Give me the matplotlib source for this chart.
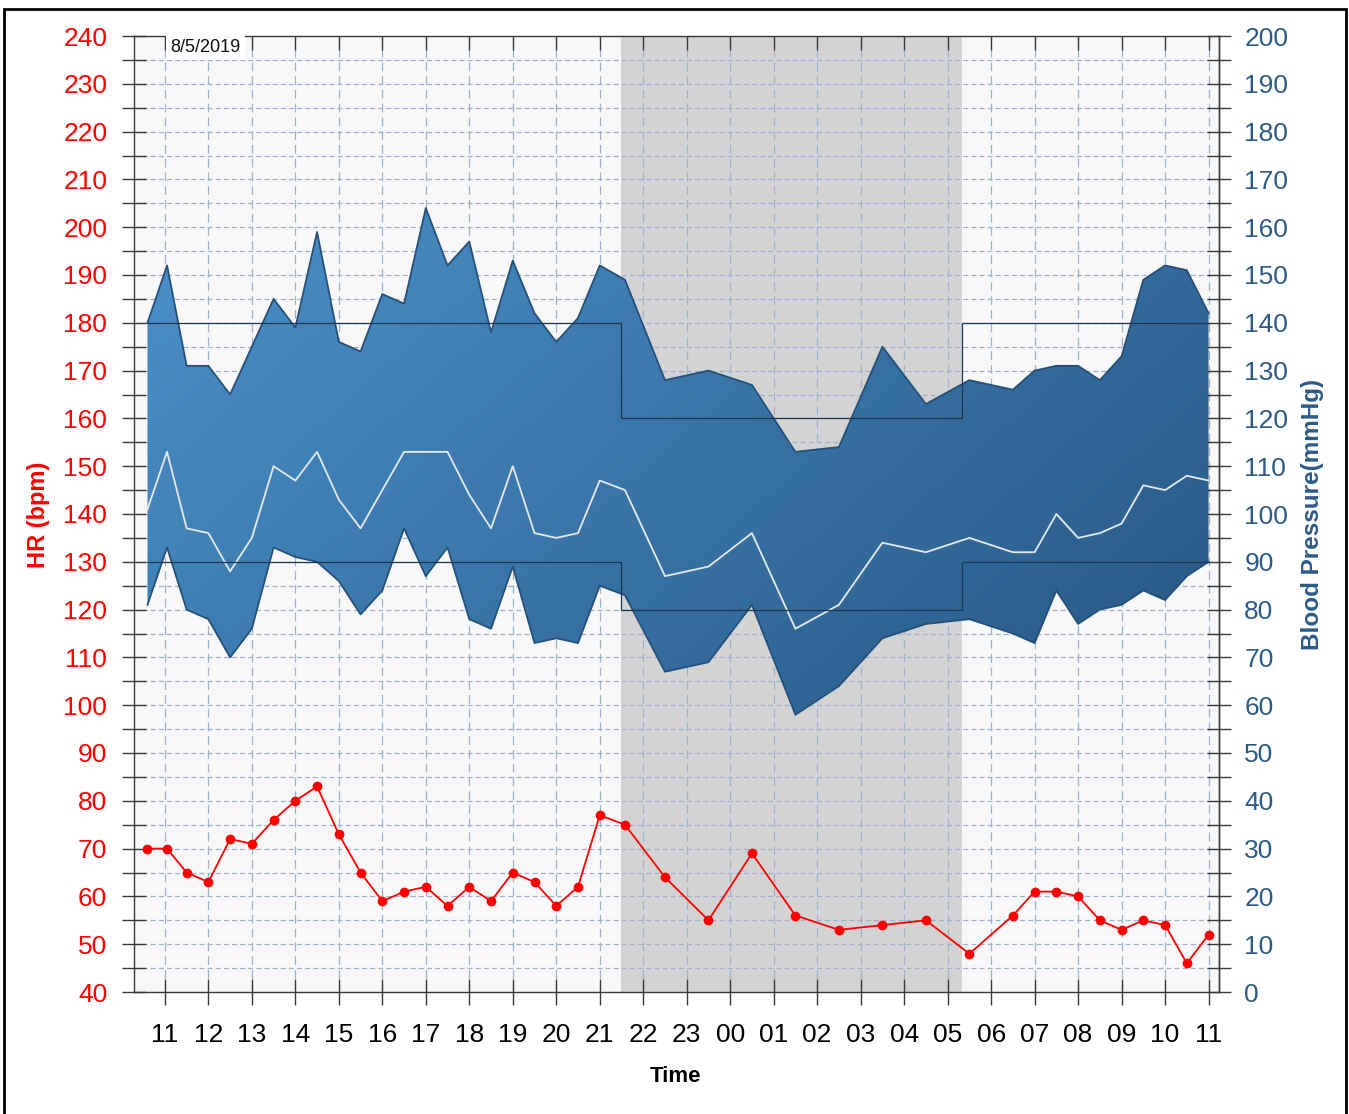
import numpy as np
import matplotlib
matplotlib.use("Agg")
import matplotlib.pyplot as plt
from matplotlib.patches import Polygon, Rectangle
from matplotlib.ticker import MultipleLocator, FixedLocator

plt.rcParams['font.family'] = ['Liberation Sans', 'DejaVu Sans']

# reading times in hours since midnight of 8/5/2019 (24 = 00 next day)
times = [10.6, 11.05, 11.5, 12, 12.5, 13, 13.5, 14, 14.5, 15, 15.5, 16, 16.5,
         17, 17.5, 18, 18.5, 19, 19.5, 20, 20.5, 21, 21.58,
         22.5, 23.5, 24.5, 25.5, 26.5, 27.5, 28.5, 29.5, 30.5,
         31, 31.5, 32, 32.5, 33, 33.5, 34, 34.5, 35]
hr = [70, 70, 65, 63, 72, 71, 76, 80, 83, 73, 65, 59, 61, 62, 58, 62, 59, 65,
      63, 58, 62, 77, 75,
      64, 55, 69, 56, 53, 54, 55, 48, 56,
      61, 61, 60, 55, 53, 55, 54, 46, 52]
systolic = [140, 152, 131, 131, 125, 135, 145, 139, 159, 136, 134, 146, 144,
            164, 152, 157, 138, 153, 142, 136, 141, 152, 149,
            128, 130, 127, 113, 114, 135, 123, 128, 126,
            130, 131, 131, 128, 133, 149, 152, 151, 142]
mean_bp = [101, 113, 97, 96, 88, 95, 110, 107, 113, 103, 97, 105, 113,
           113, 113, 104, 97, 110, 96, 95, 96, 107, 105,
           87, 89, 96, 76, 81, 94, 92, 95, 92,
           92, 100, 95, 96, 98, 106, 105, 108, 107]
diastolic = [81, 93, 80, 78, 70, 76, 93, 91, 90, 86, 79, 84, 97,
             87, 93, 78, 76, 89, 73, 74, 73, 85, 83,
             67, 69, 81, 58, 64, 74, 77, 78, 75,
             73, 84, 77, 80, 81, 84, 82, 87, 90]

# target limits (day / night)
limit_edges = [10.6, 21.5, 29.33, 35]
limit_sys = [140, 120, 140]
limit_dia = [90, 80, 90]
night = (21.5, 29.33)

hour_ticks = list(range(11, 36))
hour_labels = ['%02d' % (h % 24) for h in hour_ticks]
date_label = '8/5/2019'

W, H = 1349, 1114
fig = plt.figure(figsize=(W / 100, H / 100), dpi=100)
fig.patch.set_facecolor('white')

ax = fig.add_axes([134 / W, 1 - 992 / H, (1219 - 134) / W, (992 - 36) / H])
ax.set_facecolor('#f8f8f8')
ax2 = ax.twinx()

tick_col = '#3a3a3a'
grid_col = '#9fb2cb'
bp_col = '#2c5b88'

# night shading
ax.axvspan(night[0], night[1], color='#d3d3d3', zorder=0.8, lw=0)

# grid
ax.grid(axis='y', which='both', color=grid_col, lw=0.9, linestyle=(0, (4, 2.5)))
ax.grid(axis='x', which='major', color=grid_col, lw=0.9, linestyle=(0, (7, 4)))

# heart rate
ax.plot(times, hr, color='#ff0000', lw=1.3, marker='o', ms=6, zorder=4)

# blood pressure band with gradient fill
verts = list(zip(times, systolic)) + list(zip(times[::-1], diastolic[::-1]))
band = Polygon(verts, closed=True, fc='none', ec='none')
ax2.add_patch(band)
c0 = np.array([79, 152, 209]) / 255
c1 = np.array([32, 76, 119]) / 255
gx, gy = np.meshgrid(np.linspace(0, 1, 300), np.linspace(1, 0, 300))
tt = (gx + (1 - gy)) / 2
grad = c0[None, None, :] * (1 - tt[..., None]) + c1[None, None, :] * tt[..., None]
im = ax2.imshow(grad, extent=[0, 1, 0, 1], transform=ax2.transAxes,
                aspect='auto', zorder=1, interpolation='bilinear', origin='upper')
im.set_clip_path(band)

ax2.plot(times, systolic, color='#24507a', lw=1.3, zorder=2)
ax2.plot(times, diastolic, color='#24507a', lw=1.3, zorder=2)
ax2.plot(times, mean_bp, color='#e4eaf1', lw=1.3, zorder=3)

ax2.stairs(limit_sys, limit_edges, baseline=None, color='#1b3752', lw=0.9, zorder=4)
ax2.stairs(limit_dia, limit_edges, baseline=None, color='#1b3752', lw=0.9, zorder=4)

# axes limits and ticks
ax.set_xlim(10.29, 35.24)
ax.set_ylim(40, 240)
ax2.set_ylim(0, 200)

ax.xaxis.set_major_locator(FixedLocator(hour_ticks))
ax.set_xticklabels(hour_labels)
ax.yaxis.set_major_locator(MultipleLocator(10))
ax.yaxis.set_minor_locator(MultipleLocator(5))
ax2.yaxis.set_major_locator(MultipleLocator(10))
ax2.yaxis.set_minor_locator(MultipleLocator(5))

ax.tick_params(axis='x', which='major', direction='inout', length=19, width=1,
               color=tick_col, pad=12.5, labelsize=19, labelcolor='black')
ax.tick_params(axis='y', which='both', direction='inout', length=17.5, width=1,
               color=tick_col, pad=10.5, labelsize=19, labelcolor='#ff0000')
ax2.tick_params(axis='y', which='both', direction='inout', length=17.5, width=1,
                color=tick_col, pad=9.5, labelsize=19, labelcolor=bp_col)

# top hour ticks pointing inward
ax2.xaxis.set_visible(True)
ax2.tick_params(axis='x', which='major', top=True, bottom=False, labeltop=False,
                labelbottom=False, direction='in', length=10, width=1, color=tick_col)

for s in ['left', 'top', 'bottom']:
    ax2.spines[s].set_visible(False)
for s in ax.spines.values():
    s.set_color(tick_col)
    s.set_linewidth(1)
ax2.spines['right'].set_color(tick_col)
ax2.spines['right'].set_linewidth(1)

ax2.text(11.12, 199.45, date_label, ha='left', va='top', fontsize=13, color='#111111',
         bbox=dict(boxstyle='square,pad=0.25', fc='white', ec='none'), zorder=20)

# axis titles
fig.text(39 / W, 1 - 515 / H, 'HR (bpm)', rotation=90, ha='center', va='center',
         fontsize=17, fontweight='bold', color='#ff0000')
fig.text(1312 / W, 1 - 514 / H, 'Blood Pressure(mmHg)', rotation=90, ha='center',
         va='center', fontsize=17.5, fontweight='bold', color=bp_col)
fig.text(676 / W, 1 - 1076 / H, 'Time', ha='center', va='center', fontsize=16,
         fontweight='bold', color='black')

# outer frame
fig.add_artist(Rectangle((4 / W, -0.05), (1346 - 4) / W, 1 - 9 / H + 0.05,
                         transform=fig.transFigure, fill=False, ec='black', lw=2,
                         clip_on=False))

fig.savefig('out.png', dpi=100)
